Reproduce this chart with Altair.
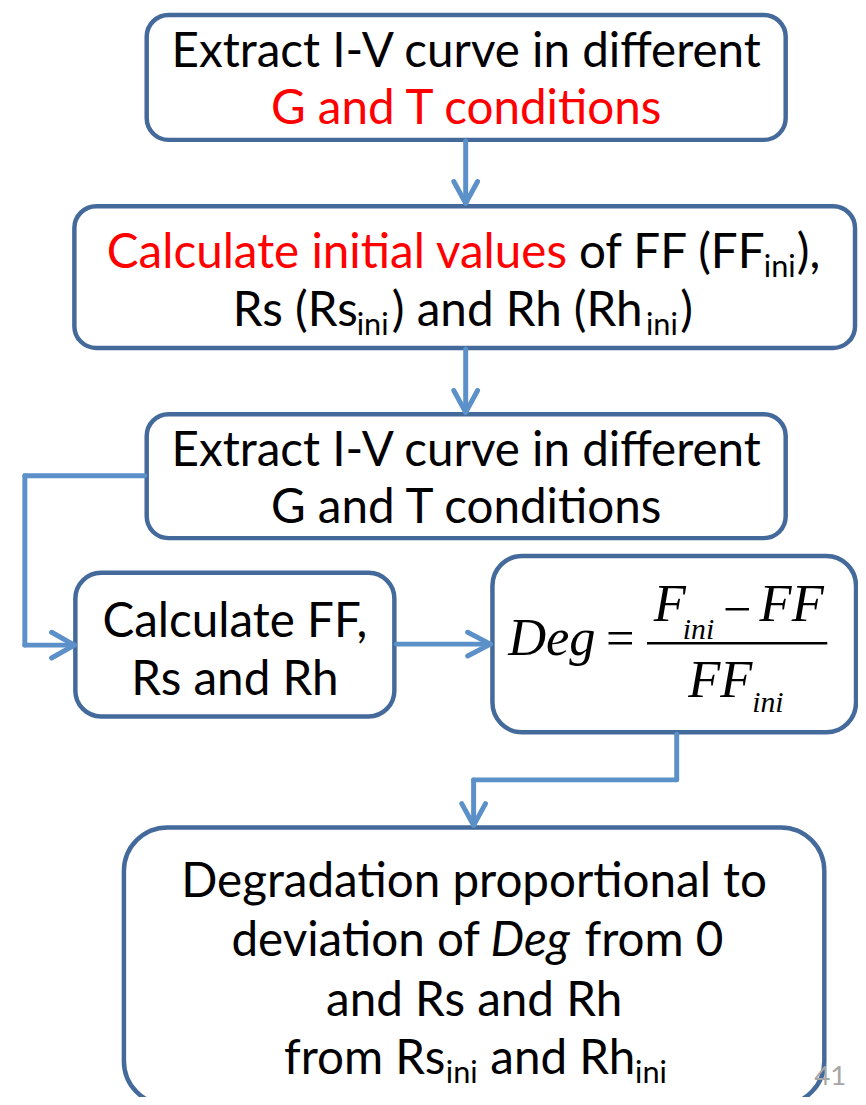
import altair as alt
import pandas as pd

# ---------------- content ----------------
box_names = ["extract_1", "calc_initial", "extract_2", "calc_ff", "deg_formula", "degradation"]

box1_line1 = ["Extract I-V curve in different"]
box1_line2 = ["G and T conditions"]
box2_line1 = ["Calculate initial values", "of FF (FF", "ini", "),"]
box2_line2 = ["Rs (Rs", "ini", ") and Rh (Rh", "ini", ")"]
box3_line1 = ["Extract I-V curve in different"]
box3_line2 = ["G and T conditions"]
box4_lines = ["Calculate FF,", "Rs and Rh"]
box6_line1 = ["Degradation proportional to"]
box6_line2 = ["deviation of", "Deg", "from 0"]
box6_line3 = ["and Rs and Rh"]
box6_line4 = ["from Rs", "ini", "and Rh", "ini"]
formula_parts = ["Deg", "=", "F", "ini", "\u2212", "FF", "FF", "ini"]
page_number = ["41"]

# ---------------- layout (reference pixel coordinates) ----------------
W, H = 858, 1089
X0, Y0 = 8, 8

box_x1 = [148, 75, 148, 76, 497, 125]
box_x2 = [793, 863, 793, 398, 864, 832]
box_y1 = [10, 203, 413, 573, 556, 830]
box_y2 = [136, 346, 538, 718, 734, 1110]
box_r = [22, 22, 22, 26, 30, 44]

BOX_STROKE = "#44699B"
ARROW = "#5B90C8"
RED = "#FF0000"
BLACK = "#000000"
SANS = "Lato"
SERIF = "Liberation Serif"
FS = 48
SUB = 31
SDY = 9

xs = alt.Scale(domain=[X0, X0 + W], nice=False, zero=False)
ys = alt.Scale(domain=[Y0, Y0 + H], nice=False, zero=False, reverse=True)


def X(f="x"):
    return alt.X(f"{f}:Q", scale=xs, axis=None)


def Y(f="y"):
    return alt.Y(f"{f}:Q", scale=ys, axis=None)


layers = []

# boxes
for i, name in enumerate(box_names):
    df = pd.DataFrame({"box": [name], "x": [box_x1[i]], "x2": [box_x2[i]],
                       "y": [box_y1[i]], "y2": [box_y2[i]]})
    layers.append(
        alt.Chart(df).mark_rect(cornerRadius=box_r[i], fill="white",
                                stroke=BOX_STROKE, strokeWidth=4.5)
        .encode(x=X(), x2=alt.X2("x2:Q"), y=Y(), y2=alt.Y2("y2:Q"))
    )

# connectors and arrow heads
seg = [
    (470, 137, 470, 199), (458, 178, 470, 200), (482, 178, 470, 200),
    (470, 347, 470, 410), (458, 389, 470, 411), (482, 389, 470, 411),
    (146, 475, 25, 475), (25, 475, 25, 646), (25, 646, 73, 646),
    (52, 633, 75, 646), (52, 659, 75, 646),
    (400, 645, 493, 645), (472, 633, 495, 645), (472, 657, 495, 645),
    (683, 736, 683, 782), (683, 782, 478, 782), (478, 782, 478, 826),
    (466, 806, 478, 828), (490, 806, 478, 828),
]
seg_df = pd.DataFrame(seg, columns=["x", "y", "x2", "y2"])
layers.append(
    alt.Chart(seg_df).mark_rule(color=ARROW, strokeWidth=5, strokeCap="round")
    .encode(x=X(), x2=alt.X2("x2:Q"), y=Y(), y2=alt.Y2("y2:Q"))
)

rows = []
def add(texts, xcs, y, colors, sizes, dys=None):
    for k, t in enumerate(texts):
        rows.append({"text": t, "x": xcs[k], "y": y + (dys[k] if dys else 0),
                     "color": colors[k], "size": sizes[k]})

add(box1_line1, [470.5], 62, [BLACK], [FS])
add(box1_line2, [470.5], 120, [RED], [FS])
add(box2_line1, [340, 678, 787, 816], 265, [RED, BLACK, BLACK, BLACK],
    [FS, FS, SUB, FS], [0, 0, SDY, 0])
add(box2_line2, [298, 376, 522, 668, 693], 324, [BLACK] * 5,
    [FS, SUB, FS, SUB, FS], [0, SDY, 0, SDY, 0])
add(box3_line1, [470.5], 465, [BLACK], [FS])
add(box3_line2, [470.5], 523, [BLACK], [FS])
add(box4_lines[:1], [237], 638, [BLACK], [FS])
add(box4_lines[1:], [237], 696, [BLACK], [FS])
add(box6_line1, [478.5], 900, [BLACK], [FS])
add([box6_line2[0], box6_line2[2]], [359, 660], 960, [BLACK, BLACK], [FS, FS])
add(box6_line3, [478.5], 1020, [BLACK], [FS])
add(box6_line4, [368, 466, 568, 657], 1079, [BLACK] * 4,
    [FS, SUB, FS, SUB], [0, SDY, 0, SDY])
sans_df = pd.DataFrame(rows)

layers.append(
    alt.Chart(sans_df).mark_text(font=SANS, align="center", baseline="alphabetic")
    .encode(x=X(), y=Y(), text="text:N",
            color=alt.Color("color:N", scale=None),
            size=alt.Size("size:Q", scale=None))
)

ital_df = pd.DataFrame({"text": [box6_line2[1]], "x": [535], "y": [960]})
layers.append(
    alt.Chart(ital_df).mark_text(font=SANS, fontStyle="italic", fontSize=FS,
                                 align="center", baseline="alphabetic", color=BLACK)
    .encode(x=X(), y=Y(), text="text:N")
)

# formula
f_x = [557, 626, 676, 705, 744, 799, 727, 775]
f_y = [656, 656, 622, 640, 627, 622, 698, 713]
f_size = [53, 51, 53, 30, 51, 53, 53, 30]
f_style = ["italic", "normal", "italic", "italic", "normal", "italic", "italic", "italic"]
form_df = pd.DataFrame({"text": formula_parts, "x": f_x, "y": f_y,
                        "size": f_size, "style": f_style})
for st in ["italic", "normal"]:
    layers.append(
        alt.Chart(form_df[form_df["style"] == st]).mark_text(
            font=SERIF, fontStyle=st, align="center", baseline="alphabetic", color=BLACK)
        .encode(x=X(), y=Y(), text="text:N", size=alt.Size("size:Q", scale=None))
    )
frac_df = pd.DataFrame({"x": [653], "x2": [835], "y": [644]})
layers.append(
    alt.Chart(frac_df).mark_rule(color=BLACK, strokeWidth=2.5)
    .encode(x=X(), x2=alt.X2("x2:Q"), y=Y())
)

pn_df = pd.DataFrame({"text": page_number, "x": [838], "y": [1090]})
layers.append(
    alt.Chart(pn_df).mark_text(font=SANS, fontSize=28, color="#A6A6A6",
                               align="center", baseline="alphabetic")
    .encode(x=X(), y=Y(), text="text:N")
)

chart = alt.layer(*layers).properties(
    width=W, height=H, padding=0, autosize=alt.AutoSizeParams(type="none")
).configure_view(strokeWidth=0)

chart.save("out.html", embed_options={"renderer": "svg", "actions": False})
